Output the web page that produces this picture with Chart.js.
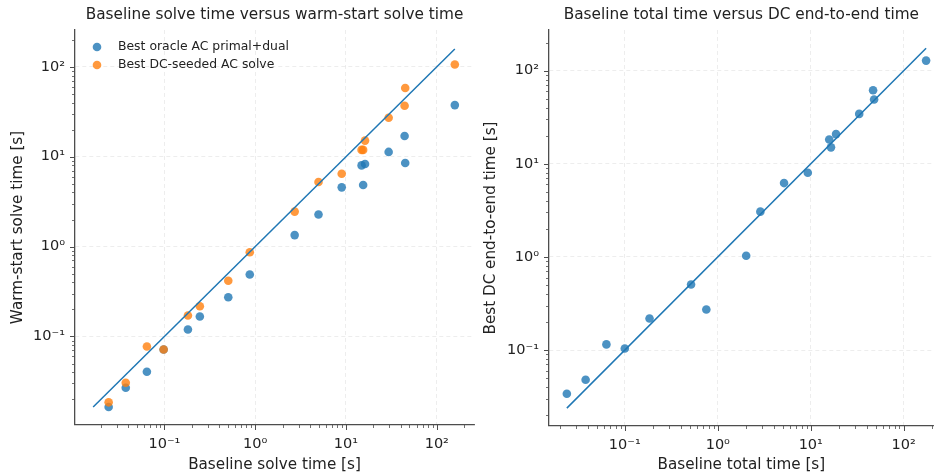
<!DOCTYPE html>
<html>
<head>
<meta charset="utf-8">
<script src="https://cdn.jsdelivr.net/npm/chart.js@4.4.1/dist/chart.umd.min.js"></script>
<style>
  html, body { margin: 0; padding: 0; background: #fff; }
  #wrap { position: relative; width: 938px; height: 474px; }
  .box { position: absolute; top: 0; height: 474px; }
</style>
</head>
<body>
<div id="wrap">
  <div class="box" style="left:0;width:480px"><canvas id="solveChart"></canvas></div>
  <div class="box" style="left:480px;width:458px"><canvas id="totalChart"></canvas></div>
</div>
<script>
// left panel: solve times per instance [s]
const baselineSolve = [0.0243, 0.0375, 0.0641, 0.098, 0.1815, 0.2455, 0.505, 0.871, 2.72, 4.98, 8.97, 14.85, 15.45, 16.2, 29.5, 44.2, 44.9, 158];
const oracleSolve   = [0.0164, 0.0269, 0.0405, 0.0717, 0.1196, 0.1668, 0.2733, 0.489, 1.342, 2.27, 4.56, 8.0, 4.85, 8.3, 11.3, 17.0, 8.5, 37.5];
const dcSeededSolve = [0.0185, 0.0306, 0.0774, 0.0717, 0.171, 0.217, 0.416, 0.865, 2.45, 5.23, 6.47, 11.9, 11.9, 15.1, 27.1, 36.9, 58, 106];

// right panel: total times per instance [s]
const baselineTotal = [0.0238, 0.0379, 0.0634, 0.1, 0.1845, 0.516, 0.753, 2.02, 2.87, 5.16, 9.29, 15.8, 16.5, 18.7, 33.2, 46.8, 48.0, 174];
const dcEndToEnd    = [0.034, 0.048, 0.115, 0.104, 0.218, 0.505, 0.272, 1.03, 3.06, 6.2, 8.0, 18.2, 15.0, 20.8, 34.3, 61.5, 48.9, 128];

const tickValues = [0.1, 1, 10, 100];
const tickLabels = ['10⁻¹', '10⁰', '10¹', '10²'];

const BLUE = 'rgba(31,119,180,0.8)';
const ORANGE = 'rgba(255,127,14,0.8)';
const LINE = '#1f77b4';
const INK = '#4d4d4d';
const TEXT = '#222';
const FONT = 'DejaVu Sans';

function toPoints(xs, ys) {
  return xs.map((x, i) => ({x: x, y: ys[i]}));
}

// y = x reference line over the full range of values
function diagonal(values) {
  const lo = Math.min(...values);
  const hi = Math.max(...values);
  return [{x: lo, y: lo}, {x: hi, y: hi}];
}

function logAxis(min, max, title, size, titlePad, vertical) {
  return {
    type: 'logarithmic',
    min: min,
    max: max,
    afterBuildTicks: s => {
      s.ticks = tickValues.filter(v => v >= min && v <= max).map(v => ({value: v}));
    },
    afterFit: s => {
      if (vertical) s.width = size; else s.height = size;
    },
    grid: {color: 'rgba(0,0,0,0.09)', lineWidth: 0.8, drawTicks: false},
    border: {display: true, color: INK, width: 1.3, dash: [4, 3]},
    ticks: {
      padding: vertical ? 10 : 11,
      color: TEXT,
      autoSkip: false,
      maxRotation: 0,
      font: {family: FONT, size: 14.5},
      callback: v => {
        const i = tickValues.findIndex(t => Math.abs(t - v) / t < 1e-6);
        return i >= 0 ? tickLabels[i] : '';
      }
    },
    title: {display: true, text: title, color: TEXT, font: {family: FONT, size: 15.2}, padding: titlePad}
  };
}

// matplotlib style outward ticks, majors at decades, minors at 2..9
const tickMarks = {
  id: 'tickMarks',
  afterDraw(chart) {
    const ctx = chart.ctx;
    ctx.save();
    ctx.strokeStyle = INK;
    ['x', 'y'].forEach(id => {
      const s = chart.scales[id];
      const e0 = Math.floor(Math.log10(s.min));
      const e1 = Math.ceil(Math.log10(s.max));
      for (let e = e0; e <= e1; e++) {
        for (let k = 1; k < 10; k++) {
          const v = k * Math.pow(10, e);
          if (v < s.min || v > s.max) continue;
          const len = k === 1 ? 5 : 3;
          const p = Math.round(s.getPixelForValue(v)) + 0.5;
          ctx.lineWidth = k === 1 ? 1 : 0.8;
          ctx.beginPath();
          if (id === 'x') {
            ctx.moveTo(p, s.top);
            ctx.lineTo(p, s.top + len);
          } else {
            ctx.moveTo(s.right, p);
            ctx.lineTo(s.right - len, p);
          }
          ctx.stroke();
        }
      }
    });
    ctx.restore();
  }
};

// legend inside the plot, upper left, no frame
const innerLegend = {
  id: 'innerLegend',
  afterDraw(chart) {
    const ctx = chart.ctx;
    const area = chart.chartArea;
    const items = chart.data.datasets.filter(d => d.inLegend);
    ctx.save();
    ctx.font = '12.4px ' + FONT;
    ctx.textBaseline = 'middle';
    items.forEach((d, i) => {
      const y = area.top + 17 + i * 18;
      ctx.fillStyle = d.backgroundColor;
      ctx.beginPath();
      ctx.arc(area.left + 22, y, 4.3, 0, Math.PI * 2);
      ctx.fill();
      ctx.fillStyle = TEXT;
      ctx.fillText(d.label, area.left + 43, y);
    });
    ctx.restore();
  }
};

function scatterSet(label, pts, color, order) {
  return {
    type: 'scatter',
    label: label,
    data: pts,
    backgroundColor: color,
    borderWidth: 0,
    pointRadius: 4.3,
    pointHoverRadius: 4.3,
    inLegend: true,
    order: order
  };
}

function lineSet(pts) {
  return {
    type: 'line',
    label: 'y = x',
    data: pts,
    borderColor: LINE,
    borderWidth: 1.5,
    pointRadius: 0,
    fill: false,
    order: 0
  };
}

function baseOptions(titleText, x, y, padRight) {
  return {
    responsive: true,
    maintainAspectRatio: false,
    animation: false,
    layout: {padding: {left: 0, right: padRight, top: 0, bottom: 0}},
    plugins: {
      legend: {display: false},
      tooltip: {enabled: false},
      title: {
        display: true,
        text: titleText,
        fullSize: false,
        color: TEXT,
        font: {family: FONT, size: 15.3, weight: 'normal'},
        padding: {top: 6, bottom: 5.6}
      }
    },
    scales: {x: x, y: y}
  };
}

const leftDiag = diagonal([...baselineSolve, ...oracleSolve, ...dcSeededSolve]);
const rightDiag = diagonal([...baselineTotal, ...dcEndToEnd]);

new Chart(document.getElementById('solveChart'), {
  type: 'scatter',
  data: {
    datasets: [
      lineSet(leftDiag),
      scatterSet('Best DC-seeded AC solve', toPoints(baselineSolve, dcSeededSolve), ORANGE, 1),
      scatterSet('Best oracle AC primal+dual', toPoints(baselineSolve, oracleSolve), BLUE, 2)
    ].reverse()
  },
  options: baseOptions(
    'Baseline solve time versus warm-start solve time',
    logAxis(0.01035, 257, 'Baseline solve time [s]', 49, {top: 0, bottom: 0}, false),
    logAxis(0.01035, 257, 'Warm-start solve time [s]', 75, {top: 9, bottom: 0}, true),
    6
  ),
  plugins: [tickMarks, innerLegend]
});

new Chart(document.getElementById('totalChart'), {
  type: 'scatter',
  data: {
    datasets: [
      scatterSet('Best DC end-to-end', toPoints(baselineTotal, dcEndToEnd), BLUE, 1),
      lineSet(rightDiag)
    ].map(d => Object.assign(d, {inLegend: false}))
  },
  options: baseOptions(
    'Baseline total time versus DC end-to-end time',
    logAxis(0.0153, 210, 'Baseline total time [s]', 48, {top: 0, bottom: 0}, false),
    logAxis(0.0153, 273, 'Best DC end-to-end time [s]', 69, {top: 2, bottom: 0}, true),
    0
  ),
  plugins: [tickMarks]
});
</script>
</body>
</html>
